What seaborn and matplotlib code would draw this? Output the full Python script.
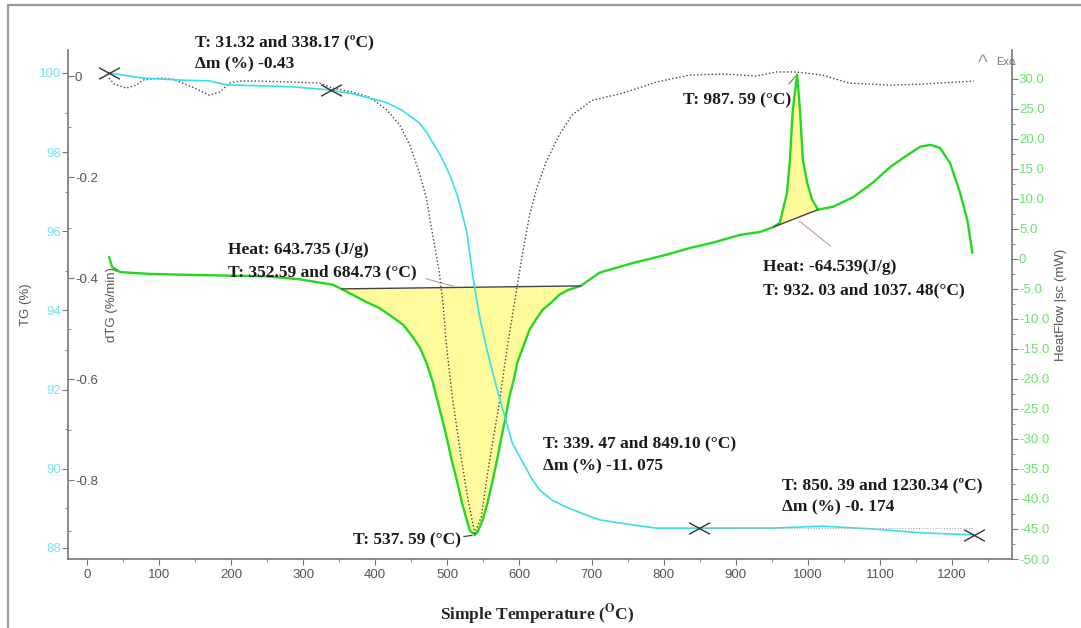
import numpy as np
import matplotlib
matplotlib.use("Agg")
import matplotlib.pyplot as plt
import seaborn as sns
from matplotlib.path import Path
from matplotlib.ticker import MultipleLocator, FuncFormatter
from matplotlib.lines import Line2D

# ---- TG curve (%)
tg_temp = [31, 78, 130, 170, 194, 250, 285, 338, 369, 392, 416, 438, 461, 472, 479,
           490, 499, 506, 513, 517, 527, 535, 545, 554, 563, 572, 582, 590, 605, 618,
           628, 646, 665, 690, 711, 757, 790, 849, 951, 1020, 1089, 1158, 1230]
tg_mass = [100.0, 99.87, 99.82, 99.80, 99.70, 99.67, 99.65, 99.57, 99.47, 99.37, 99.25,
           99.05, 98.74, 98.48, 98.26, 97.93, 97.60, 97.30, 96.95, 96.70, 95.98, 94.90,
           93.81, 93.08, 92.42, 91.81, 91.18, 90.65, 90.15, 89.72, 89.46, 89.20, 89.03,
           88.85, 88.71, 88.58, 88.50, 88.50, 88.50, 88.55, 88.48, 88.38, 88.33]

# ---- dTG curve (%/min)
dtg_temp = [31, 38, 55, 69, 78, 101, 119, 147, 170, 184, 198, 212, 240, 285, 323, 341,
            369, 392, 416, 434, 448, 461, 471, 479, 489, 494, 499, 507, 517, 528, 538,
            547, 558, 572, 583, 596, 604, 614, 624, 637, 655, 673, 701, 743, 790, 836,
            881, 928, 956, 984, 1020, 1057, 1113, 1158, 1205, 1230]
dtg_rate = [-0.004, -0.016, -0.024, -0.018, -0.008, -0.004, -0.006, -0.022, -0.038,
            -0.032, -0.014, -0.010, -0.010, -0.012, -0.014, -0.024, -0.032, -0.042,
            -0.067, -0.097, -0.137, -0.190, -0.242, -0.309, -0.390, -0.450, -0.537,
            -0.636, -0.735, -0.834, -0.905, -0.873, -0.766, -0.648, -0.537, -0.424,
            -0.354, -0.275, -0.222, -0.170, -0.117, -0.077, -0.048, -0.034, -0.012,
            0.002, 0.004, 0.000, 0.008, 0.008, 0.002, -0.014, -0.018, -0.016, -0.012,
            -0.010]

# ---- heat flow curve (mW)
hf_temp = [31, 35, 46, 87, 157, 249, 295, 341, 353, 369, 388, 406, 424, 439, 452, 462,
           471, 479, 485, 492, 499, 506, 513, 520, 527, 531, 538, 542, 549, 556, 563,
           569, 575, 581, 586, 592, 597, 605, 614, 624, 632, 645, 655, 667, 685, 711,
           757, 804, 836, 868, 906, 934, 952, 961, 971, 975, 979, 985, 989, 993, 999,
           1006, 1014, 1035, 1063, 1090, 1114, 1138, 1156, 1170, 1183, 1197, 1211, 1221,
           1228]
hf_value = [0.3, -1.3, -2.2, -2.5, -2.7, -2.9, -3.4, -4.3, -5.0, -6.0, -7.2, -8.2, -9.7,
            -11.0, -13.0, -14.8, -17.3, -20.2, -23.0, -26.3, -29.7, -33.5, -36.8, -40.5,
            -43.5, -45.2, -46.0, -45.5, -43.5, -40.5, -36.8, -33.5, -29.7, -26.3, -23.0,
            -20.2, -17.3, -14.7, -11.8, -9.9, -8.5, -7.2, -6.0, -5.2, -4.5, -2.3, -0.7,
            0.7, 1.8, 2.7, 4.0, 4.5, 5.3, 6.0, 11.0, 16.5, 24.8, 30.7, 24.8, 16.5, 12.7,
            9.8, 8.2, 8.7, 10.3, 12.7, 15.3, 17.3, 18.7, 19.0, 18.5, 16.0, 11.0, 6.5, 1.0]

# integration limits of the two peaks (as drawn)
peak_limits = [(353, 685), (952, 1014)]
# mass-step markers (temperature, TG)
step_temp = [31.32, 338.17, 849.10, 1230.34]
step_mass = [100.0, 99.57, 88.50, 88.33]
# peak temperatures used for the leader lines
peak_min_temp, peak_min_value = 538, -46.0
peak_max_temp, peak_max_value = 985, 30.7

x_ticks = list(range(0, 1201, 100))
tg_ticks = [88, 90, 92, 94, 96, 98, 100]
dtg_ticks = [0, -0.2, -0.4, -0.6, -0.8]
hf_ticks = list(range(-50, 31, 5))

CYAN = "#38dfe8"
GREEN = "#22d822"

sns.set_style("ticks")
plt.rcParams["font.family"] = ["Liberation Sans", "DejaVu Sans"]
plt.rcParams["mathtext.fontset"] = "stix"

W, H = 1081, 628
fig = plt.figure(figsize=(W / 100, H / 100), dpi=100)
ax_hf = fig.add_axes([68 / W, 1 - 559 / H, (1012 - 68) / W, (559 - 50) / H])
ax_dtg = ax_hf.twinx()
ax_tg = ax_hf.twinx()
ax_hf.yaxis.tick_right()
ax_hf.yaxis.set_label_position("right")
ax_tg.yaxis.tick_left()
ax_tg.yaxis.set_label_position("left")

# heat flow with filled peaks
sns.lineplot(x=hf_temp, y=hf_value, ax=ax_hf, color=GREEN, linewidth=1.7)
t = np.array(hf_temp, float)
v = np.array(hf_value, float)
for lo, hi in peak_limits:
    m = (t >= lo) & (t <= hi)
    b0, b1 = v[t == lo][0], v[t == hi][0]
    base = b0 + (t[m] - lo) * (b1 - b0) / (hi - lo)
    ax_hf.fill_between(t[m], v[m], base, color="#fffb9c", zorder=1, linewidth=0)
    ax_hf.plot([lo, hi], [b0, b1], color="#444444", linewidth=1.0, zorder=3)

# dTG dotted
sns.lineplot(x=dtg_temp, y=dtg_rate, ax=ax_dtg, color="#444444", linewidth=1.0,
             linestyle=(0, (1, 1.6)))

# TG
sns.lineplot(x=tg_temp, y=tg_mass, ax=ax_tg, color=CYAN, linewidth=1.2)
ax_tg.plot([step_temp[2], step_temp[3]], [step_mass[2], step_mass[2]],
           color="#aaaaaa", linewidth=0.8, linestyle=(0, (1, 1.5)))
xmark = Path([(-1, -0.55), (1, 0.55), (-1, 0.55), (1, -0.55)],
             [Path.MOVETO, Path.LINETO, Path.MOVETO, Path.LINETO])
ax_tg.plot(step_temp, step_mass, linestyle="none", marker=xmark, markersize=15,
           markeredgewidth=1.0, color="#333333", zorder=5)

# limits
for a in (ax_hf, ax_dtg, ax_tg):
    a.set_xlim(-26, 1283)
ax_hf.set_ylim(-50, 34.8)
ax_dtg.set_ylim(-0.956, 0.0515)
ax_tg.set_ylim(87.72, 100.58)

# spines
for a in (ax_hf, ax_dtg, ax_tg):
    for s in a.spines.values():
        s.set_visible(False)
        s.set_color("#777777")
        s.set_linewidth(1.2)
ax_hf.spines["bottom"].set_visible(True)
ax_hf.spines["right"].set_visible(True)
ax_tg.spines["left"].set_visible(True)
ax_dtg.spines["right"].set_position(("axes", 0))

# ticks
ax_hf.set_xticks(x_ticks)
ax_hf.xaxis.set_minor_locator(MultipleLocator(50))
ax_hf.tick_params(axis="x", which="both", direction="out", color="#777777",
                  labelcolor="#555555", labelsize=9.5, pad=3)
ax_hf.tick_params(axis="x", which="major", length=4)
ax_hf.tick_params(axis="x", which="minor", length=2.5)

ax_hf.set_yticks(hf_ticks)
ax_hf.yaxis.set_minor_locator(MultipleLocator(2.5))
ax_hf.yaxis.set_major_formatter(FuncFormatter(lambda y, p: "0" if y == 0 else f"{y:.1f}"))
ax_hf.tick_params(axis="y", which="both", direction="out", color="#777777",
                  labelcolor="#6ee06e", labelsize=9.5, pad=1)
ax_hf.tick_params(axis="y", which="major", length=4)
ax_hf.tick_params(axis="y", which="minor", length=2)

ax_tg.set_yticks(tg_ticks)
ax_tg.yaxis.set_minor_locator(MultipleLocator(1))
ax_tg.tick_params(axis="y", which="both", direction="out", color="#777777",
                  labelcolor="#78e4f0", labelsize=9.5, pad=1)
ax_tg.tick_params(axis="y", which="major", length=4)
ax_tg.tick_params(axis="y", which="minor", length=2)

ax_dtg.set_yticks(dtg_ticks)
ax_dtg.yaxis.set_minor_locator(MultipleLocator(0.1))
ax_dtg.yaxis.set_major_formatter(FuncFormatter(lambda y, p: "0" if y == 0 else f"{y:.1f}"))
ax_dtg.tick_params(axis="y", which="both", direction="out", color="#777777",
                   labelcolor="#555555", labelsize=9.5, pad=1)
ax_dtg.tick_params(axis="y", which="major", length=4)
ax_dtg.tick_params(axis="y", which="minor", length=2)

# axis labels
ax_tg.set_ylabel("TG (%)", color="#555555", fontsize=9.5)
ax_tg.yaxis.set_label_coords(-0.038, 0.5)
ax_dtg.set_ylabel("dTG (%/min)", color="#555555", fontsize=9.5)
ax_dtg.yaxis.set_label_coords(0.040, 0.5)
ax_hf.set_ylabel("HeatFlow |sc (mW)", color="#555555", fontsize=9.5)
ax_hf.yaxis.set_label_coords(1.046, 0.5)
ax_hf.set_xlabel(r"Simple Temperature ($^{\mathbf{O}}$C)", fontfamily="Liberation Serif",
                 fontweight="bold", fontsize=12.5)
ax_hf.xaxis.set_label_coords(0.497, -0.086)

# annotations (pixel positions from the top-left corner)
def note(px, py, s, ha="left"):
    fig.text(px / W, 1 - py / H, s, ha=ha, va="center", fontsize=12.5,
             fontfamily="Liberation Serif", fontweight="bold", color="#1a1a1a")

note(195, 42, "T: 31.32 and 338.17 (ºC)")
note(195, 64, "Δm (%) -0.43")
note(228, 250, "Heat: 643.735 (J/g)")
note(228, 272, "T: 352.59 and 684.73 (°C)")
note(683, 100, "T: 987. 59 (°C)")
note(763, 267, "Heat: -64.539(J/g)")
note(763, 290, "T: 932. 03 and 1037. 48(°C)")
note(543, 443, "T: 339. 47 and 849.10 (°C)")
note(543, 466, "Δm (%) -11. 075")
note(782, 485, "T: 850. 39 and 1230.34 (ºC)")
note(782, 507, "Δm (%) -0. 174")
note(461, 540, "T: 537. 59 (°C)", ha="right")

# leader lines from the labels to the peaks
ax_hf.annotate("", xy=(513, -4.7), xytext=(423, H - 278), textcoords="figure pixels",
               arrowprops=dict(arrowstyle="-", color="#c49a9a", lw=0.8))
ax_hf.annotate("", xy=(985, 6.6), xytext=(833, H - 248), textcoords="figure pixels",
               arrowprops=dict(arrowstyle="-", color="#c49a9a", lw=0.8))
ax_hf.annotate("", xy=(peak_max_temp, peak_max_value), xytext=(787, H - 86),
               textcoords="figure pixels",
               arrowprops=dict(arrowstyle="-", color="#777777", lw=0.8))
ax_hf.annotate("", xy=(peak_min_temp, peak_min_value), xytext=(461, H - 537),
               textcoords="figure pixels",
               arrowprops=dict(arrowstyle="-", color="#444444", lw=0.9))

# exo marker
fig.text(983 / W, 1 - 63 / H, "^", fontsize=15, color="#999999", ha="center", va="center")
fig.text(996 / W, 1 - 62 / H, "Exo", fontsize=8, color="#777777", ha="left", va="center")

# outer frame (left and top edges)
fig.add_artist(Line2D([8 / W, 8 / W], [0, 1 - 5 / H], transform=fig.transFigure,
                      color="#999999", linewidth=1.6))
fig.add_artist(Line2D([8 / W, 1], [1 - 5 / H, 1 - 5 / H], transform=fig.transFigure,
                      color="#999999", linewidth=1.6))

fig.savefig("out.png", dpi=100)
